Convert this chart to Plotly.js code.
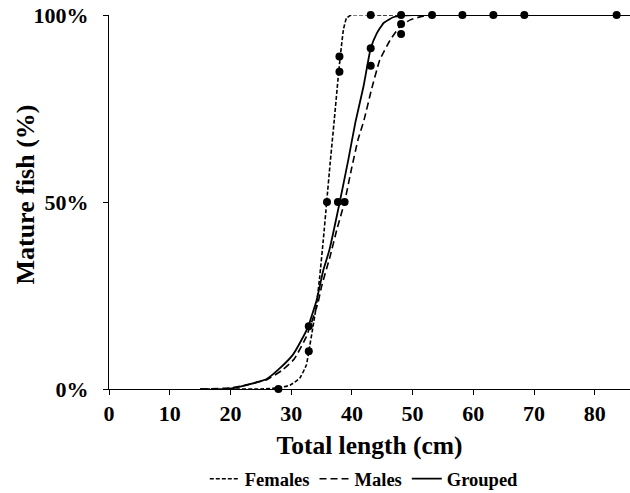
<!DOCTYPE html>
<html>
<head>
<meta charset="utf-8">
<script src="https://cdn.plot.ly/plotly-3.0.1.min.js"></script>
<style>
#chart text { font-family: 'Liberation Serif', 'Times New Roman', 'DejaVu Serif', serif !important; font-weight: bold !important; }
</style>
</head>
<body style="margin:0;background:#fff">
<div id="chart" style="width:630px;height:493px"></div>
<script>
// Fitted maturity curves (total length cm, % mature)
const femaleX = [15, 20, 25, 27.9, 29.8, 31.4, 32.5, 32.9, 33.6, 34.2, 34.7, 35.3, 35.85, 36.4, 37.1, 37.9, 38.6, 39.1, 39.9, 45, 85.8];
const femaleY = [0, 0, 0, 0.3, 1, 2.9, 6.4, 10, 16.7, 22.9, 30, 40, 50, 60, 72, 86, 96, 99.1, 100, 100, 100];

const maleX = [15, 20, 23, 26, 28.5, 30.5, 32.5, 34.4, 35.0, 36.4, 37.5, 38.8, 39.9, 41.0, 42.0, 43.2, 44.6, 46.3, 47.9, 49.6, 51.7, 53.3, 85.8];
const maleY = [0, 0.3, 1.2, 2.5, 5, 8, 14, 22.9, 27.4, 35.4, 42.5, 50, 58.6, 66.6, 71.9, 79.9, 88, 93.3, 96.9, 98.7, 99.7, 100, 100];

const groupX = [19, 20.4, 23.2, 25.9, 28.1, 30.3, 31.7, 32.8, 34.2, 35.3, 36.3, 38.0, 39.4, 40.6, 41.9, 43.1, 44.1, 45.2, 46.8, 48.5, 50, 85.8];
const groupY = [0, 0.2, 1.3, 2.6, 5.5, 9.2, 13.1, 16.7, 23.8, 31.8, 37.2, 50, 61.2, 71.5, 80.8, 91.1, 95.1, 97.8, 99.4, 99.9, 100, 100];

// Observed proportions
const obsX = [27.9, 32.9, 32.9, 35.9, 37.7, 38.8, 37.95, 37.95, 43.1, 43.1, 43.1, 48.1, 48.1, 48.1, 53.2, 58.2, 63.3, 68.4, 83.6];
const obsY = [0, 10.1, 16.8, 50, 50, 50, 84.8, 88.9, 86.4, 91.1, 100, 94.9, 97.6, 100, 100, 100, 100, 100, 100];

const xTicks = [0, 10, 20, 30, 40, 50, 60, 70, 80];
const yTicks = [0, 50, 100];
const yTickText = ['0%', '50%', '100%'];

function bf(size) { return {family: 'Liberation Serif', size: size, weight: 'bold', color: '#000'}; }

const traces = [
  {x: femaleX, y: femaleY, mode: 'lines', name: 'Females', line: {color: '#000', width: 1.6, dash: '4px,2px', shape: 'spline', smoothing: 0.4}, cliponaxis: false},
  {x: maleX, y: maleY, mode: 'lines', name: 'Males', line: {color: '#000', width: 1.6, dash: '7px,4px', shape: 'spline', smoothing: 0.4}, cliponaxis: false},
  {x: groupX, y: groupY, mode: 'lines', name: 'Grouped', line: {color: '#000', width: 1.8, shape: 'spline', smoothing: 0.4}, cliponaxis: false},
  {x: obsX, y: obsY, mode: 'markers', name: 'Observed', showlegend: false, marker: {color: '#000', size: 8}, cliponaxis: false}
];

const layout = {
  width: 630, height: 493,
  margin: {l: 109, r: 0, t: 15, b: 104},
  paper_bgcolor: '#fff', plot_bgcolor: '#fff',
  font: bf(20),
  showlegend: true,
  legend: {orientation: 'h', x: 0.49, xanchor: 'center', yref: 'container', y: 0.028, yanchor: 'middle', font: bf(18.5)},
  xaxis: {
    range: [0, 85.8], tickvals: xTicks, ticktext: xTicks.map(String), automargin: false,
    showgrid: false, zeroline: false, showline: true, linecolor: '#000', linewidth: 1,
    ticks: 'outside', ticklen: 5, tickcolor: '#000', tickwidth: 1,
    tickfont: bf(22),
    title: {text: 'Total length (cm)', font: bf(25.5), standoff: 11},
    fixedrange: true
  },
  yaxis: {
    range: [0, 100], tickvals: yTicks, ticktext: yTickText, automargin: false,
    showgrid: false, zeroline: false, showline: true, linecolor: '#000', linewidth: 1,
    ticks: 'outside', ticklen: 5, tickcolor: '#000', tickwidth: 1,
    tickfont: bf(22),
    ticklabelstandoff: 10,
    fixedrange: true
  },
  annotations: [{
    text: 'Mature fish (%)', xref: 'paper', yref: 'paper', x: -0.16, y: 0.519,
    xanchor: 'center', yanchor: 'middle', textangle: -90, showarrow: false,
    font: bf(26)
  }]
};

Plotly.newPlot('chart', traces, layout, {displayModeBar: false});
</script>
</body>
</html>
